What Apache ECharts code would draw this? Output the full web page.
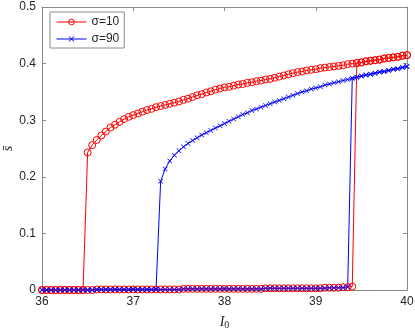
<!DOCTYPE html>
<html>

<head>
  <meta charset="utf-8" />
  <script src="https://cdn.jsdelivr.net/npm/echarts@6/dist/echarts.min.js"></script>
  <style>
    html, body { margin: 0; padding: 0; background: #fff; }
    #chart { width: 415px; height: 330px; }
  </style>
</head>

<body>
  <div id="chart"></div>
  <script type="text/javascript">
    // I0 sweep grid (step 0.05)
    const iGrid = [
      36.00, 36.05, 36.10, 36.15, 36.20, 36.25, 36.30, 36.35, 36.40, 36.45,
      36.50, 36.55, 36.60, 36.65, 36.70, 36.75, 36.80, 36.85, 36.90, 36.95,
      37.00, 37.05, 37.10, 37.15, 37.20, 37.25, 37.30, 37.35, 37.40, 37.45,
      37.50, 37.55, 37.60, 37.65, 37.70, 37.75, 37.80, 37.85, 37.90, 37.95,
      38.00, 38.05, 38.10, 38.15, 38.20, 38.25, 38.30, 38.35, 38.40, 38.45,
      38.50, 38.55, 38.60, 38.65, 38.70, 38.75, 38.80, 38.85, 38.90, 38.95,
      39.00, 39.05, 39.10, 39.15, 39.20, 39.25, 39.30, 39.35, 39.40, 39.45,
      39.50, 39.55, 39.60, 39.65, 39.70, 39.75, 39.80, 39.85, 39.90, 39.95,
      40.00
    ];

    // sigma = 10 : lower branch 36.00 .. 39.40, upper branch 36.50 .. 40.00
    const redLower = [
      0.000, 0.000, 0.000, 0.000, 0.000, 0.000, 0.000, 0.000, 0.000, 0.000,
      0.000, 0.000, 0.001, 0.001, 0.001, 0.001, 0.001, 0.001, 0.001, 0.001,
      0.001, 0.001, 0.001, 0.001, 0.001, 0.001, 0.001, 0.001, 0.001, 0.001,
      0.001, 0.002, 0.002, 0.002, 0.002, 0.002, 0.002, 0.002, 0.002, 0.002,
      0.002, 0.002, 0.002, 0.002, 0.002, 0.002, 0.002, 0.002, 0.002, 0.003,
      0.003, 0.003, 0.003, 0.003, 0.003, 0.003, 0.003, 0.003, 0.003, 0.003,
      0.003, 0.003, 0.004, 0.004, 0.004, 0.004, 0.005, 0.005, 0.006
    ];
    const redUpperStart = 36.50;
    const redUpper = [
      0.243, 0.256, 0.265, 0.273, 0.280, 0.287, 0.292, 0.297, 0.302, 0.306,
      0.309, 0.312, 0.315, 0.318, 0.320, 0.323, 0.325, 0.327, 0.329, 0.331,
      0.333, 0.336, 0.338, 0.341, 0.344, 0.346, 0.349, 0.351, 0.354, 0.356,
      0.358, 0.359, 0.361, 0.363, 0.364, 0.366, 0.367, 0.369, 0.370, 0.372,
      0.373, 0.375, 0.377, 0.379, 0.381, 0.383, 0.385, 0.386, 0.388, 0.389,
      0.390, 0.392, 0.393, 0.394, 0.395, 0.396, 0.397, 0.399, 0.400, 0.401,
      0.402, 0.404, 0.405, 0.406, 0.407, 0.409, 0.410, 0.411, 0.412, 0.414,
      0.415
    ];

    // sigma = 90 : lower branch 36.00 .. 39.35, upper branch 37.30 .. 40.00
    const blueLower = [
      0.000, 0.000, 0.000, 0.000, 0.000, 0.000, 0.000, 0.000, 0.000, 0.000,
      0.000, 0.000, 0.001, 0.001, 0.001, 0.001, 0.001, 0.001, 0.001, 0.001,
      0.001, 0.001, 0.001, 0.001, 0.001, 0.001, 0.001, 0.001, 0.001, 0.001,
      0.001, 0.002, 0.002, 0.002, 0.002, 0.002, 0.002, 0.002, 0.002, 0.002,
      0.002, 0.002, 0.002, 0.002, 0.002, 0.002, 0.002, 0.002, 0.002, 0.003,
      0.003, 0.003, 0.003, 0.003, 0.003, 0.003, 0.003, 0.003, 0.003, 0.003,
      0.003, 0.003, 0.003, 0.004, 0.004, 0.004, 0.004, 0.005
    ];
    const blueUpperStart = 37.30;
    const blueUpper = [
      0.192, 0.214, 0.228, 0.238, 0.246, 0.253, 0.259, 0.264, 0.269, 0.274,
      0.278, 0.282, 0.286, 0.290, 0.294, 0.298, 0.302, 0.306, 0.310, 0.313,
      0.317, 0.320, 0.323, 0.326, 0.329, 0.332, 0.335, 0.338, 0.341, 0.344,
      0.347, 0.350, 0.352, 0.355, 0.357, 0.359, 0.362, 0.364, 0.366, 0.368,
      0.370, 0.372, 0.374, 0.376, 0.378, 0.380, 0.381, 0.383, 0.385, 0.386,
      0.388, 0.390, 0.391, 0.393, 0.395
    ];

    const xTicks = [36, 37, 38, 39, 40];
    const yTicks = [0, 0.1, 0.2, 0.3, 0.4, 0.5];

    // sweep up along the lower branch, jump, then sweep back down the upper branch
    function loopData(lower, upper, upStart) {
      const s = iGrid.indexOf(upStart);
      const pts = [];
      lower.forEach((v, i) => pts.push([iGrid[i], v]));
      for (let i = lower.length; i < s + upper.length; i++) pts.push([iGrid[i], upper[i - s]]);
      for (let i = s + upper.length - 1; i >= s; i--) pts.push([iGrid[i], upper[i - s]]);
      for (let i = s - 1; i >= 0; i--) pts.push([iGrid[i], lower[i]]);
      return pts;
    }

    const axisGray = '#8a8a8a';
    const labelColor = '#262626';
    const crossPath = 'path://M0,1L1,0L5,4L9,0L10,1L6,5L10,9L9,10L5,6L1,10L0,9L4,5Z';

    const chart = echarts.init(document.getElementById("chart"), null, { renderer: 'canvas' });

    function boxAxis(pos, isX, show) {
      return {
        type: 'value',
        position: pos,
        min: isX ? xTicks[0] : yTicks[0],
        max: isX ? xTicks[xTicks.length - 1] : yTicks[yTicks.length - 1],
        interval: isX ? 1 : 0.1,
        axisLine: { show: true, onZero: false, lineStyle: { color: axisGray, width: 1 } },
        axisTick: { show: true, inside: true, length: 4, lineStyle: { color: axisGray } },
        splitLine: { show: false },
        axisLabel: {
          show: show,
          color: labelColor,
          fontFamily: 'Liberation Sans',
          fontSize: 12,
          margin: 6
        }
      };
    }

    const xMain = boxAxis('bottom', true, true);
    xMain.name = '{i|I}{s|0}';
    xMain.nameLocation = 'middle';
    xMain.nameGap = 24;
    xMain.nameMoveOverlap = false;
    xMain.nameTextStyle = {
      rich: {
        i: { fontFamily: 'Liberation Serif', fontStyle: 'italic', fontSize: 14, color: labelColor },
        s: { fontFamily: 'Liberation Serif', fontSize: 10, color: labelColor, verticalAlign: 'bottom', padding: [6, 0, 0, 0] }
      }
    };

    const yMain = boxAxis('left', false, true);
    yMain.axisLabel.formatter = v => String(Math.round(v * 10) / 10);
    yMain.name = 's\u0304';
    yMain.nameLocation = 'middle';
    yMain.nameGap = 27;
    yMain.nameRotate = 90;
    yMain.nameMoveOverlap = false;
    yMain.nameTextStyle = { fontFamily: 'Liberation Serif', fontStyle: 'italic', fontSize: 14, color: labelColor };

    var option = {
      animation: false,
      backgroundColor: '#fff',
      grid: { left: 42, right: 8, top: 7, bottom: 40, containLabel: false, outerBoundsMode: 'none' },
      legend: {
        left: 50,
        top: 12,
        orient: 'vertical',
        backgroundColor: '#fff',
        borderColor: axisGray,
        borderWidth: 1,
        borderRadius: 0,
        padding: [4, 5, 3, 6],
        itemGap: 5,
        itemWidth: 30,
        itemHeight: 7,
        lineStyle: { width: 1 },
        itemStyle: { borderWidth: 1 },
        textStyle: { fontFamily: 'Liberation Sans', fontSize: 12, color: labelColor },
        data: ['\u03c3=10', '\u03c3=90']
      },
      xAxis: [xMain, boxAxis('top', true, false)],
      yAxis: [yMain, boxAxis('right', false, false)],
      series: [
        {
          name: '\u03c3=10',
          type: 'line',
          data: loopData(redLower, redUpper, redUpperStart),
          symbol: 'circle',
          symbolSize: 7,
          showAllSymbol: true,
          lineStyle: { color: '#ff0000', width: 1 },
          itemStyle: { color: 'rgba(255,255,255,0)', borderColor: '#ff0000', borderWidth: 1 }
        },
        {
          name: '\u03c3=90',
          type: 'line',
          data: loopData(blueLower, blueUpper, blueUpperStart),
          symbol: crossPath,
          symbolSize: 5,
          showAllSymbol: true,
          lineStyle: { color: '#0000ff', width: 1 },
          itemStyle: { color: '#0000ff' }
        }
      ]
    };

    chart.setOption(option);

    window.onresize = () => {
      chart?.resize();
    };
  </script>
</body>

</html>
